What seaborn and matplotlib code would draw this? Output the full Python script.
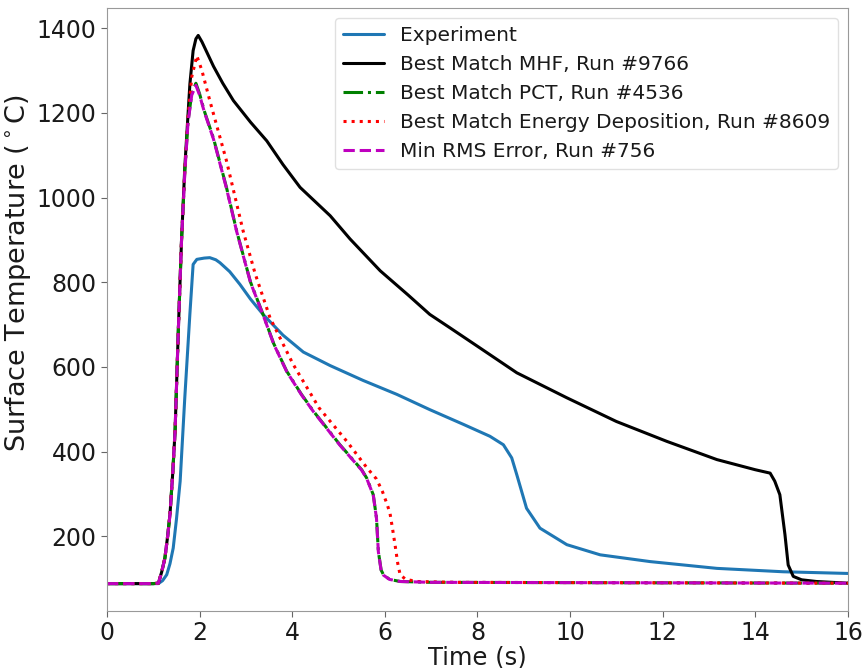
import matplotlib
matplotlib.use("Agg")
import matplotlib.pyplot as plt
import seaborn as sns
import pandas as pd

# ---- data ----
exp_t = [0, 1.0, 1.11, 1.2, 1.29, 1.36, 1.43, 1.5, 1.58, 1.68, 1.79, 1.86, 1.94, 2.1, 2.22, 2.35, 2.44,
         2.65, 2.87, 3.1, 3.37, 3.8, 4.24, 4.82, 5.53, 6.26, 6.97, 7.70, 8.27, 8.56, 8.74, 8.85, 9.06,
         9.35, 9.93, 10.65, 11.73, 13.17, 14.6, 16.0]
exp_T = [88, 88, 88, 95, 109, 135, 172, 240, 330, 527, 725, 842, 854, 857, 858, 853, 846,
         825, 795, 760, 724, 675, 635, 603, 568, 535, 499, 464, 436, 416, 385, 345, 266,
         219, 180, 156, 140, 124, 116, 112]

mhf_t = [0, 1.0, 1.11, 1.18, 1.25, 1.31, 1.36, 1.42, 1.47, 1.54, 1.61, 1.68, 1.79, 1.86, 1.92, 1.97,
         2.05, 2.3, 2.5, 2.73, 3.1, 3.45, 3.8, 4.17, 4.82, 5.25, 5.9, 6.5, 6.97, 7.41, 8.05, 8.85,
         9.93, 11.0, 12.09, 13.17, 14.0, 14.32, 14.42, 14.53, 14.64, 14.71, 14.82, 15.0, 15.32, 16.0]
mhf_T = [88, 88, 89, 115, 148, 200, 251, 350, 448, 685, 900, 1071, 1268, 1347, 1375, 1383,
         1368, 1310, 1270, 1229, 1178, 1134, 1078, 1024, 957, 902, 827, 770, 724, 692, 645, 586,
         527, 471, 424, 381, 357, 349, 330, 298, 204, 132, 105, 97, 93, 89]

pct_t = [0, 1.0, 1.11, 1.18, 1.25, 1.31, 1.36, 1.42, 1.47, 1.54, 1.61, 1.68, 1.75, 1.83, 1.92,
         2.0, 2.1, 2.3, 2.58, 2.8, 3.1, 3.37, 3.6, 3.88, 4.2, 4.46, 4.75, 5.03, 5.3, 5.5, 5.61,
         5.75, 5.82, 5.86, 5.92, 5.97, 6.1, 6.33, 7.0, 16.0]
pct_T = [88, 88, 89, 115, 148, 200, 251, 350, 448, 685, 900, 1060, 1180, 1245, 1270,
         1245, 1205, 1140, 1024, 921, 800, 724, 655, 590, 535, 495, 455, 416, 382, 357, 337,
         298, 243, 164, 120, 109, 98, 93, 91, 89]

ene_t = [0, 1.0, 1.11, 1.18, 1.25, 1.31, 1.36, 1.42, 1.47, 1.54, 1.61, 1.68, 1.75, 1.83, 1.94,
         2.05, 2.22, 2.58, 2.94, 3.2, 3.52, 4.02, 4.58, 5.18, 5.61, 5.82, 5.95, 6.05, 6.11, 6.17,
         6.22, 6.28, 6.33, 6.45, 6.7, 7.5, 16.0]
ene_T = [88, 88, 89, 115, 148, 200, 251, 350, 448, 685, 900, 1065, 1190, 1285, 1335,
         1300, 1229, 1087, 921, 820, 716, 606, 503, 424, 362, 335, 305, 275, 255, 215,
         180, 135, 109, 98, 93, 91, 89]

rms_t = [0, 1.0, 1.11, 1.18, 1.25, 1.31, 1.36, 1.42, 1.47, 1.54, 1.61, 1.68, 1.75, 1.83, 1.92,
         2.0, 2.1, 2.3, 2.58, 2.8, 3.1, 3.37, 3.6, 3.88, 4.2, 4.46, 4.75, 5.03, 5.3, 5.5, 5.61,
         5.75, 5.82, 5.86, 5.92, 5.97, 6.1, 6.33, 7.0, 16.0]
rms_T = [88, 88, 89, 115, 148, 200, 251, 350, 448, 685, 900, 1058, 1178, 1242, 1265,
         1242, 1203, 1138, 1022, 920, 799, 723, 654, 589, 534, 494, 454, 415, 381, 356, 336,
         297, 242, 163, 119, 108, 98, 93, 91, 89]

labels = ["Experiment", "Best Match MHF, Run #9766", "Best Match PCT, Run #4536",
          "Best Match Energy Deposition, Run #8609", "Min RMS Error, Run #756"]
xticks = [0, 2, 4, 6, 8, 10, 12, 14, 16]
yticks = [200, 400, 600, 800, 1000, 1200, 1400]

# ---- style ----
sns.set_style("ticks", {"axes.edgecolor": "0.6"})
plt.rcParams['font.family'] = ['DejaVu Sans']

fig = plt.figure(figsize=(8.67, 6.68), dpi=100)
ax = fig.add_axes([0.1234, 0.0853, 0.8546, 0.9027])

series = [
    (exp_t, exp_T, labels[0], "#1f77b4", "-"),
    (mhf_t, mhf_T, labels[1], "black", "-"),
    (pct_t, pct_T, labels[2], "green", "-."),
    (ene_t, ene_T, labels[3], "red", ":"),
    (rms_t, rms_T, labels[4], "m", "--"),
]
for t, T, lab, col, ls in series:
    df = pd.DataFrame({"t": t, "T": T})
    sns.lineplot(data=df, x="t", y="T", ax=ax, sort=False, estimator=None,
                 color=col, linestyle=ls, linewidth=2.2, label=lab)

ax.set_xlim(0, 16)
ax.margins(y=0.05)
ax.set_xticks(xticks)
ax.set_yticks(yticks)
ax.tick_params(labelsize=17, labelcolor="0.1", color="0.4", length=4)
ax.set_xlabel("Time (s)", fontsize=17.5, labelpad=0, color="0.1")
ax.set_ylabel(r"Surface Temperature ($^\circ$C)", fontsize=19.5, color="0.1")
ax.yaxis.set_label_coords(-0.1, 0.56)
leg = ax.legend(loc="upper right", fontsize=14.5, frameon=True)
leg.get_frame().set_edgecolor("0.85")
for txt in leg.get_texts():
    txt.set_color("0.1")

fig.savefig("out.png", dpi=100)
